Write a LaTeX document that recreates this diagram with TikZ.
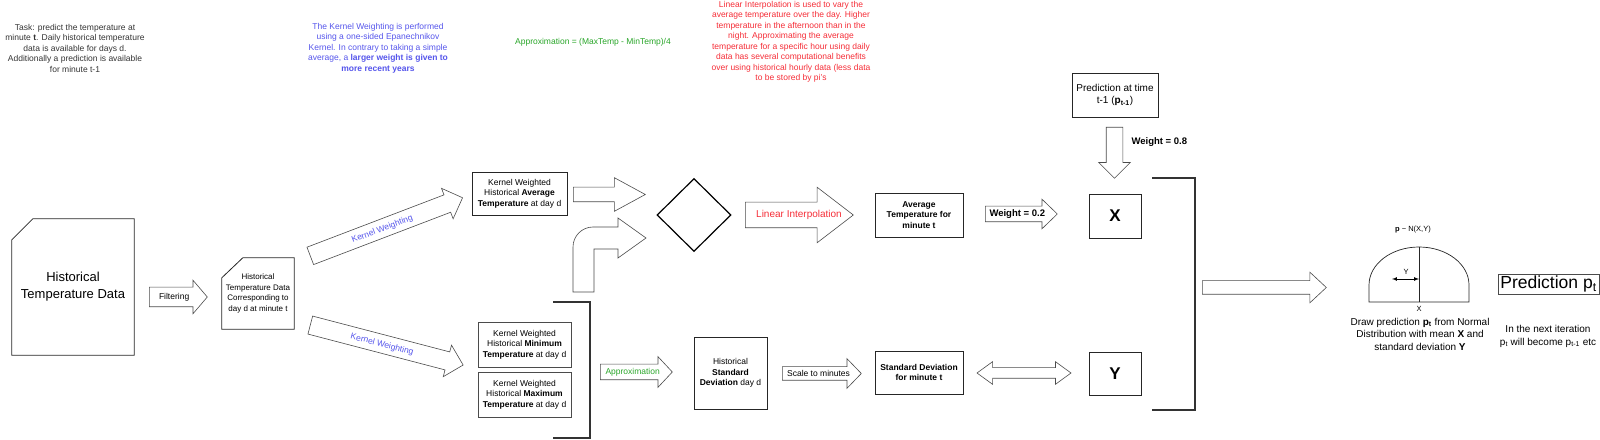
\documentclass[tikz,border=0pt]{standalone}
\usepackage{fontspec}
\setmainfont{Liberation Sans}
\usetikzlibrary{shapes.arrows,shapes.geometric}

\definecolor{kwblue}{RGB}{85,85,235}
\definecolor{interpred}{RGB}{245,45,55}
\definecolor{approxgreen}{RGB}{40,165,40}
\definecolor{edgegray}{RGB}{75,75,75}

\newcommand{\smallf}{\fontsize{8.5}{10.5}\selectfont}

\begin{document}
\begin{tikzpicture}[x=1pt,y=1pt,
  box/.style={draw=black!85, line width=0.8pt, align=center, font=\smallf, inner sep=2pt},
  barrow/.style={single arrow, draw=edgegray, line width=0.6pt, anchor=tail, font=\smallf, inner xsep=1pt, text height=6pt, text depth=0pt},
  note/.style={align=center, font=\smallf},
  docline/.style={draw=black!85, line width=0.8pt},
  bracket/.style={draw=black!80, line width=1.4pt}]
\useasboundingbox (0,0) rectangle (1600,439);

  % Notes
  \node[note, text=black!80] (tasknote) at (75,391) {Task: predict the temperature at\\minute \textbf{t}. Daily historical temperature\\data is available for days d.\\Additionally a prediction is available\\for minute t-1};
  \node[note, text=kwblue] (kwnote) at (378,391) {The Kernel Weighting is performed\\using a one-sided Epanechnikov\\Kernel. In contrary to taking a simple\\average, a \textbf{larger weight is given to}\\\textbf{more recent years}};
  \node[note, text=approxgreen] (approxnote) at (593,397) {Approximation = (MaxTemp - MinTemp)/4};
  \node[note, text=interpred] (interpnote) at (791,397) {Linear Interpolation is used to vary the\\average temperature over the day. Higher\\temperature in the afternoon than in the\\night. Approximating the average\\temperature for a specific hour using daily\\data has several computational benefits\\over using historical hourly data (less data\\to be stored by pi's};

  % Data
  \node[align=center, font=\fontsize{13}{17}\selectfont, minimum width=122, minimum height=136] (histdata) at (73,152) {Historical\\Temperature Data};
  \draw[docline] ([yshift=-21]histdata.north west) -- ([xshift=21]histdata.north west) -- (histdata.north east) -- (histdata.south east) -- (histdata.south west) -- cycle;
  \node[barrow, minimum height=58, inner ysep=6.5pt, single arrow head extend=7pt, single arrow tip angle=99] (filtarr) at (149,142) {Filtering};
  \node[align=center, font=\fontsize{8}{10.5}\selectfont, minimum width=72, minimum height=71] (filtdata) at (258,145.5) {Historical\\Temperature Data\\Corresponding to\\day d at minute t};
  \draw[docline] ([yshift=-20]filtdata.north west) -- ([xshift=21]filtdata.north west) -- (filtdata.north east) -- (filtdata.south east) -- (filtdata.south west) -- cycle;

  % Kernel weighting
  \node[barrow, rotate=20.9, minimum height=163, inner ysep=6pt, single arrow head extend=7pt, single arrow tip angle=90, text=kwblue] (kwup) at (310,183) {Kernel Weighting};
  \node[barrow, rotate=-14.65, minimum height=158, inner ysep=6pt, single arrow head extend=7pt, single arrow tip angle=90, text=kwblue] (kwdown) at (310,114) {Kernel Weighting};
  \node[box, minimum width=95, minimum height=43] (kwavg) at (519.5,245.5) {Kernel Weighted\\Historical \textbf{Average}\\\textbf{Temperature} at day d};
  \node[box, draw=edgegray, minimum width=93, minimum height=45] (kwmin) at (524.5,94.5) {Kernel Weighted\\Historical \textbf{Minimum}\\\textbf{Temperature} at day d};
  \node[box, draw=edgegray, minimum width=93, minimum height=45] (kwmax) at (524.5,44.5) {Kernel Weighted\\Historical \textbf{Maximum}\\\textbf{Temperature} at day d};
  \draw[bracket] (553,137) -| (590,1) -- (553,1);

  % Average branch
  \node[barrow, minimum height=72, inner ysep=4pt, single arrow head extend=9.5pt, single arrow tip angle=57] (avgarr) at (573,244.5) {};
  \draw[draw=edgegray, line width=0.6pt] (573,147) -- (573,192) arc (180:90:20pt) -- (618,212) -- (618,221) -- (646,201) -- (618,181) -- (618,190) -- (594,190) -- (594,147) -- cycle;
  \node[diamond, draw, line width=1.2pt, minimum width=74, minimum height=73, inner sep=0pt] (join) at (694,224) {};
  \node[barrow, minimum height=108, inner ysep=9.5pt, single arrow head extend=15pt, single arrow tip angle=75] (interparr) at (745,224) {};
  \node[text=interpred, font=\fontsize{10}{12}\selectfont] (interplbl) at (799,224) {Linear Interpolation};
  \node[box, font=\smallf\bfseries, minimum width=88, minimum height=44] (avgmin) at (919,224) {Average\\Temperature for\\minute t};
  \node[barrow, minimum height=72, inner ysep=4.5pt, single arrow head extend=7pt, single arrow tip angle=88, font=\fontsize{9.5}{11}\selectfont\bfseries] (w02arr) at (985,225) {Weight = 0.2};

  % Std branch
  \node[barrow, minimum height=72, inner ysep=4.5pt, single arrow head extend=7.5pt, single arrow tip angle=94, text=approxgreen] (approxarr) at (600,67) {Approximation};
  \node[box, minimum width=73, minimum height=72] (histstd) at (730.5,66) {Historical\\\textbf{Standard}\\\textbf{Deviation} day d};
  \node[barrow, minimum height=79, inner ysep=3.5pt, single arrow head extend=8pt, single arrow tip angle=92] (scalearr) at (782,65.5) {Scale to minutes};
  \node[box, font=\smallf\bfseries, minimum width=88, minimum height=43] (stdmin) at (919,66.5) {Standard Deviation\\for minute t};
  \node[double arrow, draw=edgegray, line width=0.6pt, minimum height=94, inner ysep=2pt, double arrow head extend=6pt, double arrow tip angle=72, text height=6pt, text depth=0pt] (stdarr) at (1024,66) {};

  % X and Y
  \node[box, font=\fontsize{10}{12.5}\selectfont, minimum width=86, minimum height=44] (predprev) at (1115,344) {Prediction at time\\t-1 (\textbf{p}\textsubscript{\textbf{t-1}})};
  \node[barrow, rotate=-90, minimum height=51, inner ysep=5pt, single arrow head extend=7.5pt, single arrow tip angle=90] (w08arr) at (1114.5,312) {};
  \node[anchor=west, font=\fontsize{9.5}{11}\selectfont\bfseries] (w08lbl) at (1128,297) {Weight = 0.8};
  \node[box, font=\fontsize{17}{20}\selectfont\bfseries, minimum width=52, minimum height=44] (xbox) at (1115,223) {X};
  \node[box, font=\fontsize{17}{20}\selectfont\bfseries, minimum width=52, minimum height=43] (ybox) at (1115,65.5) {Y};
  \draw[bracket] (1152,261) -| (1195,29) -- (1152,29);
  \node[barrow, minimum height=124, inner ysep=3.5pt, single arrow head extend=8.5pt, single arrow tip angle=86] (bigarr) at (1202,151.5) {};

  % Distribution
  \draw[docline, line width=0.7pt] (1369,137) -- (1369,154) arc (180:0:50pt and 38pt) -- (1469,137) -- cycle;
  \coordinate (mean) at (1419,160);
  \coordinate (sdl) at (1392,160);
  \draw[docline, line width=0.7pt] (1419,137) -- (1419,192);
  \draw[<->, >=latex, line width=0.7pt] (sdl) -- (mean);
  \node[font=\fontsize{7.5}{9}\selectfont] (ylbl) at (1406,167) {Y};
  \node[font=\fontsize{7.5}{9}\selectfont] (xlbl) at (1419,130) {X};
  \node[font=\fontsize{7.5}{9}\selectfont] (distlbl) at (1413,209) {\textbf{p} \textasciitilde\ N(X,Y)};
  \node[align=center, font=\fontsize{10}{12.5}\selectfont] (distcap) at (1420,105) {Draw prediction \textbf{p}\textsubscript{\textbf{t}} from Normal\\Distribution with mean \textbf{X} and\\standard deviation \textbf{Y}};
  \node[draw=edgegray, line width=0.6pt, font=\fontsize{17.5}{20}\selectfont, inner sep=1pt, minimum width=101, minimum height=20] (predt) at (1548.5,155) {Prediction p\textsubscript{t}};
  \node[align=center, font=\fontsize{10}{13}\selectfont] (nextnote) at (1548,103) {In the next iteration\\p\textsubscript{t} will become p\textsubscript{t-1} etc};

\end{tikzpicture}
\end{document}
